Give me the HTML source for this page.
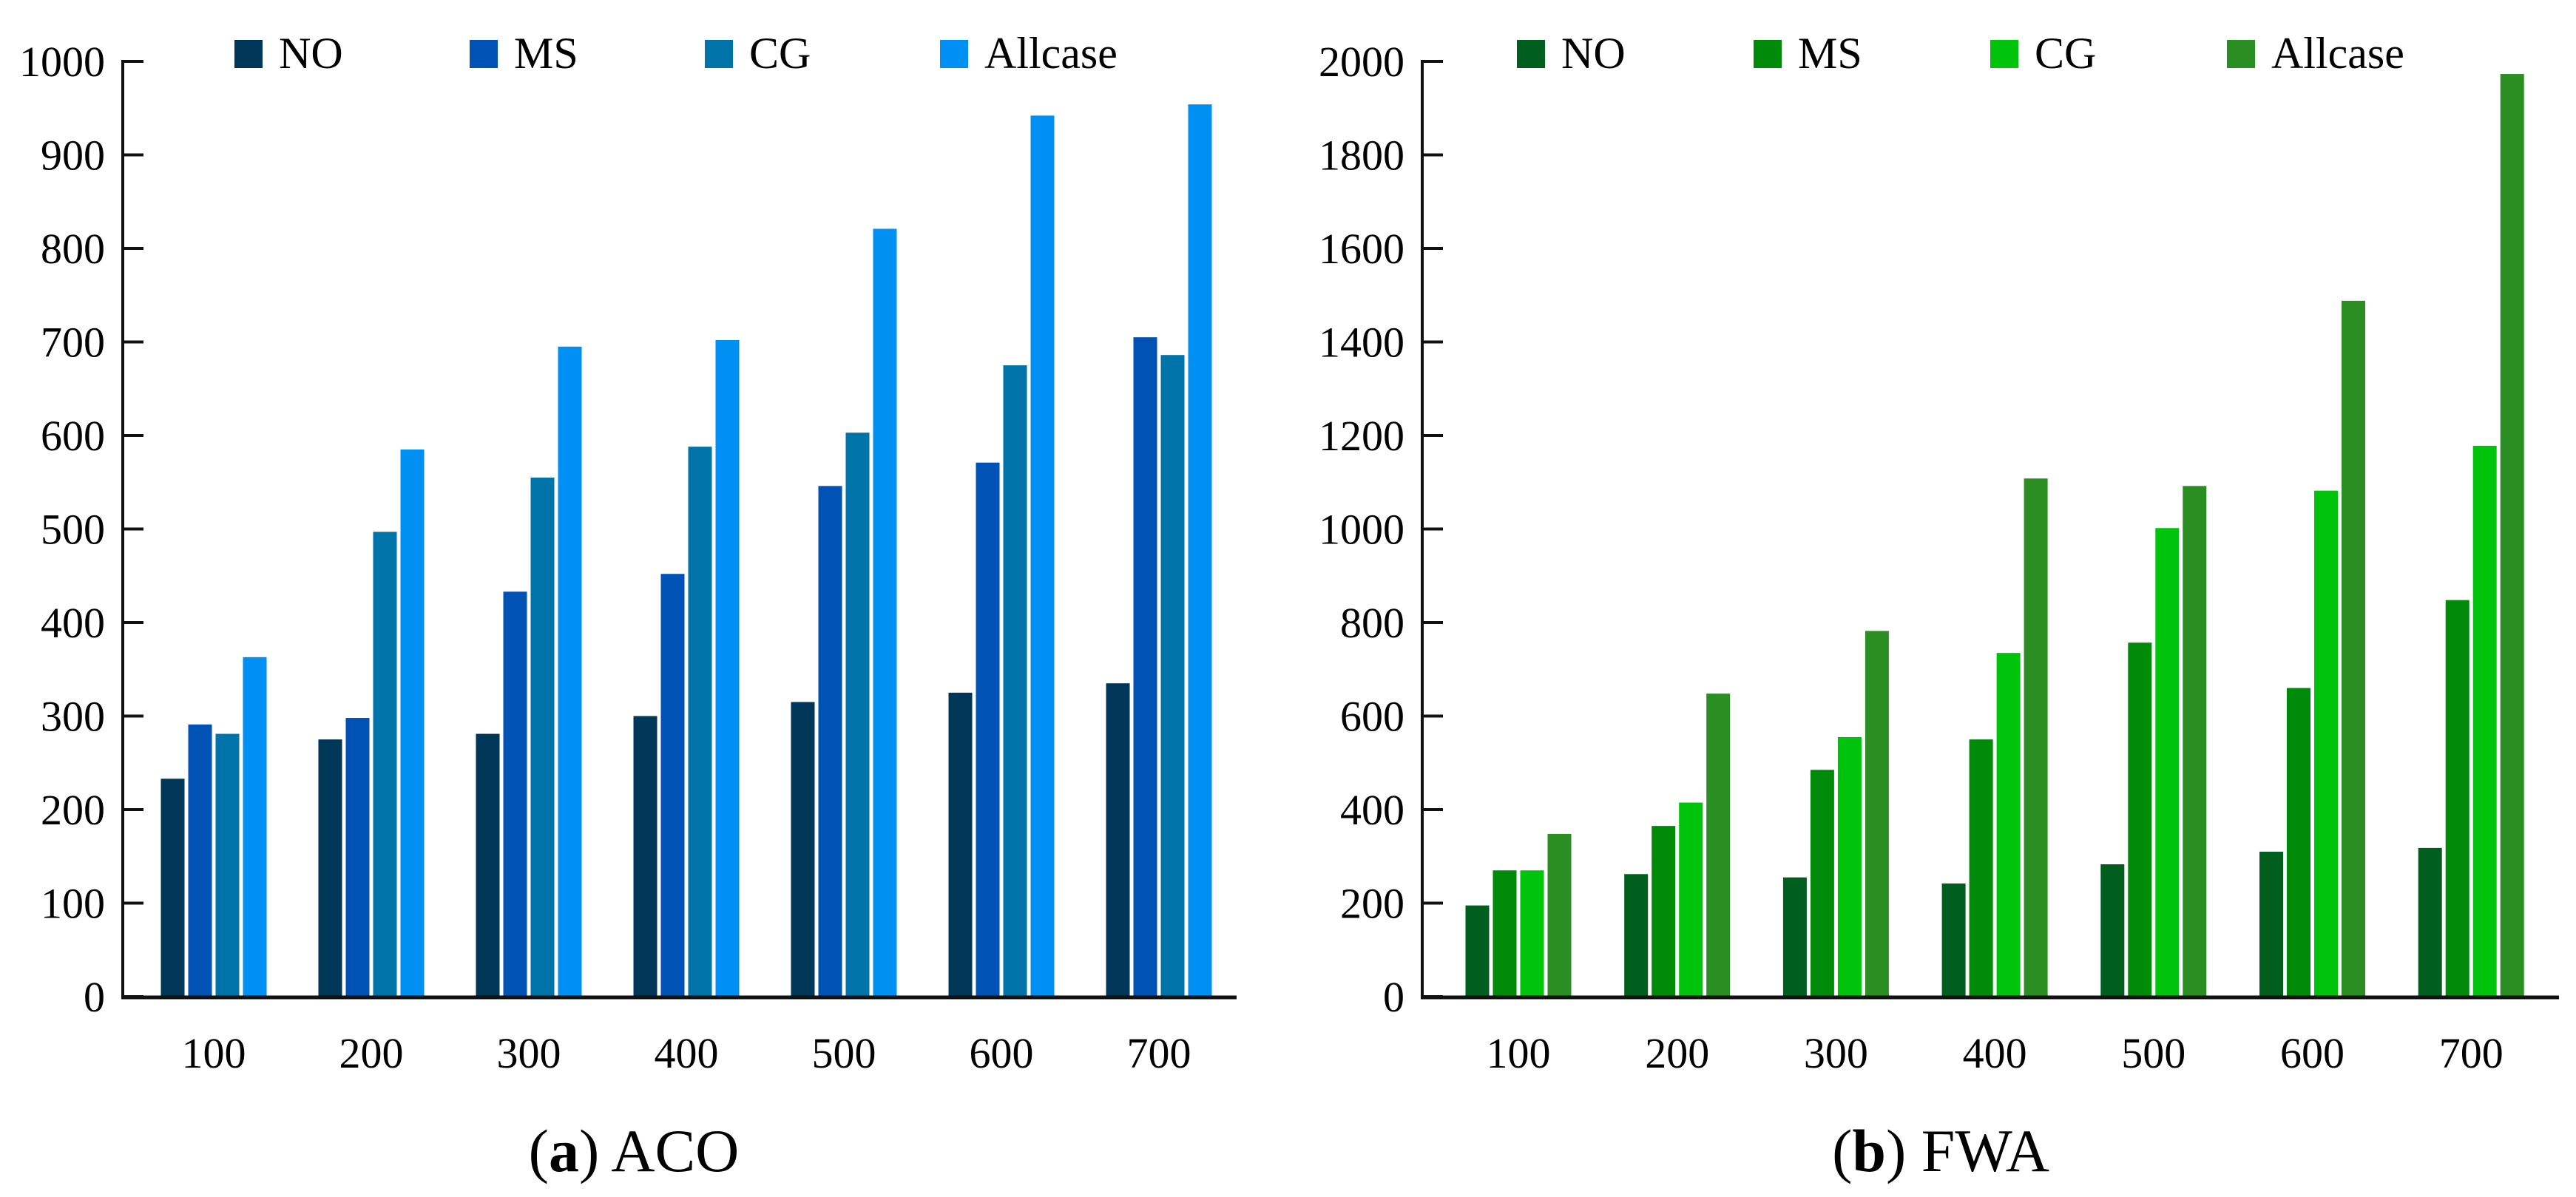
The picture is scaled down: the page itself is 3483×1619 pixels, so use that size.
<!DOCTYPE html>
<html><head><meta charset="utf-8"><style>
html,body{margin:0;padding:0;background:#fff;}
svg{display:block;font-family:"Liberation Serif",serif;}
</style></head><body>
<svg id="fig" width="3483" height="1619" viewBox="0 0 3483 1619" xmlns="http://www.w3.org/2000/svg"></svg>
<script>
const categories = ["100","200","300","400","500","600","700"];
const seriesNames = ["NO","MS","CG","Allcase"];
const acoNO = [233,275,281,300,315,325,335];
const acoMS = [291,298,433,452,546,571,705];
const acoCG = [281,497,555,588,603,675,686];
const acoAll = [363,585,695,702,821,942,954];
const fwaNO = [195,262,255,242,283,310,318];
const fwaMS = [270,365,485,550,757,660,848];
const fwaCG = [270,415,555,735,1002,1082,1178];
const fwaAll = [348,648,782,1108,1092,1488,1973];
const acoTicks = [0,100,200,300,400,500,600,700,800,900,1000];
const fwaTicks = [0,200,400,600,800,1000,1200,1400,1600,1800,2000];

const NS="http://www.w3.org/2000/svg";
const svg=document.getElementById('fig');
function el(tag,attrs,parent){const e=document.createElementNS(NS,tag);for(const k in attrs)e.setAttribute(k,attrs[k]);(parent||svg).appendChild(e);return e;}

function chart(cfg){
  const g=el('g',{});
  
  
  const y0=1348, yTop=83, ax=cfg.ax, axEnd=cfg.axEnd, ymax=cfg.ticks[cfg.ticks.length-1];
  const yS=v=>y0-(v/ymax)*(y0-yTop);
  const gc=i=>cfg.c0+i*cfg.step;
  // axes
  const ya=el('line',{x1:ax,y1:yTop-2,x2:ax,y2:y0+3,stroke:'#111','stroke-width':4},g);
  
  
  cfg.ticks.forEach(t=>{
    const tk=el('line',{x1:ax,y1:yS(t),x2:ax+28,y2:yS(t),stroke:'#111','stroke-width':4},g);
    
    
    const tl=el('text',{x:ax-24,y:yS(t)+20,'text-anchor':'end','font-size':58,fill:'#000'},g);
    tl.textContent=t;
    
    
  });
  // bars
  const bw=32,pitch=37;
  cfg.series.forEach((arr,s)=>{
    arr.forEach((v,i)=>{
      const x=gc(i)-(3*pitch+bw)/2+s*pitch;
      const r=el('rect',{x:x,y:yS(v),width:bw,height:y0-yS(v),fill:cfg.colors[s]},g);
      
      
    });
  });
  const xa=el('line',{x1:ax-2,y1:y0+1,x2:axEnd,y2:y0+1,stroke:'#111','stroke-width':5},g);
  
  
  categories.forEach((c,i)=>{
    const t=el('text',{x:gc(i),y:1444,'text-anchor':'middle','font-size':58,fill:'#000'},g);
    t.textContent=c;
    
    
  });
  // legend
  seriesNames.forEach((n,s)=>{
    const lx=cfg.legX+s*cfg.legStep;
    const sq=el('rect',{x:lx,y:54,width:38,height:38,fill:cfg.colors[s]},g);
    
    
    const t=el('text',{x:lx+60,y:92,'font-size':60,fill:'#000'},g);
    t.textContent=n;
    
    
  });
  // caption
  const cap=el('text',{x:cfg.capX,y:1584,'text-anchor':'middle','font-size':82,fill:'#000'},g);
  const b=document.createElementNS(NS,'tspan');b.textContent='(';cap.appendChild(b);
  const b2=document.createElementNS(NS,'tspan');b2.setAttribute('font-weight','bold');b2.textContent=cfg.capLetter;cap.appendChild(b2);
  const b3=document.createElementNS(NS,'tspan');b3.textContent=') '+cfg.capText;cap.appendChild(b3);
  
  
}

chart({name:'aco-chart',ax:166,axEnd:1672,c0:289,step:213,ticks:acoTicks,
  series:[acoNO,acoMS,acoCG,acoAll],colors:['#003658','#0052b4','#0073a8','#008ff2'],
  legX:317,legStep:318,capX:857,capLetter:'a',capText:'ACO'});
chart({name:'fwa-chart',ax:1923,axEnd:3460,c0:2053,step:214.7,ticks:fwaTicks,
  series:[fwaNO,fwaMS,fwaCG,fwaAll],colors:['#005f1e','#008a0a','#00c40c','#2b8e22'],
  legX:2051,legStep:320,capX:2624,capLetter:'b',capText:'FWA'});
</script>
</body></html>
